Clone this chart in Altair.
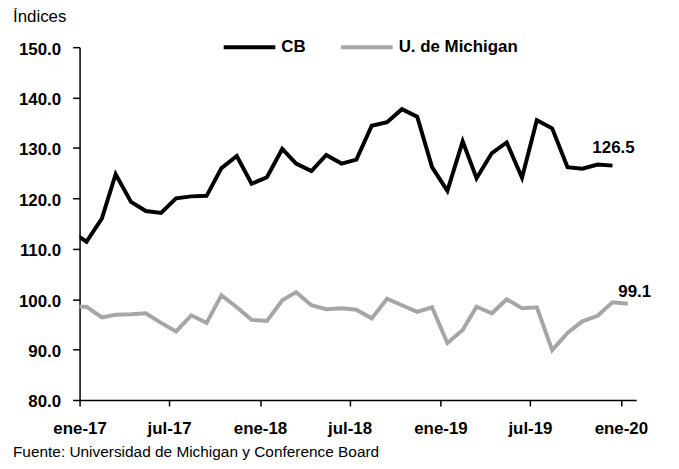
import altair as alt
import pandas as pd

F = "Liberation Sans, Arial, sans-serif"

# monthly observations (dated mid-month), Dec-2016 .. Jan-2020
months = [f"{y}-{m:02d}-15" for y, m in
          [(2016, 12)] + [(yy, mm) for yy in (2017, 2018, 2019) for mm in range(1, 13)] + [(2020, 1)]]

cb = [113.5,
      111.4, 116.0, 124.8, 119.3, 117.5, 117.1, 120.0, 120.4, 120.5, 126.0, 128.4, 122.9,
      124.2, 129.8, 126.9, 125.4, 128.6, 126.9, 127.7, 134.4, 135.1, 137.7, 136.2, 126.2,
      121.5, 131.3, 124.0, 129.0, 131.1, 124.1, 135.5, 133.9, 126.2, 125.9, 126.7, 126.5]

mich = [98.5,
        98.5, 96.4, 96.9, 97.0, 97.2, 95.3, 93.6, 96.8, 95.3, 100.8, 98.4, 95.9,
        95.7, 99.8, 101.4, 98.8, 98.0, 98.2, 97.9, 96.2, 100.1, 98.8, 97.5, 98.4,
        91.3, 93.9, 98.5, 97.2, 100.0, 98.2, 98.4, 89.9, 93.3, 95.6, 96.7, 99.4,
        99.1]

series_names = ["CB", "U. de Michigan"]
series_colors = ["#000000", "#a6a6a6"]
tick_dates = [(2017, 1), (2017, 7), (2018, 1), (2018, 7), (2019, 1), (2019, 7), (2020, 1)]

rows = []
for name, vals in zip(series_names, [cb, mich]):
    for d, v in zip(months, vals):
        rows.append({"fecha": d, "serie": name, "valor": v})
df = pd.DataFrame(rows)

last_cb = pd.DataFrame([{"fecha": months[len(cb) - 1], "valor": cb[-1], "txt": f"{cb[-1]:.1f}"}])
last_mi = pd.DataFrame([{"fecha": months[len(mich) - 1], "valor": mich[-1], "txt": f"{mich[-1]:.1f}"}])

x_scale = alt.Scale(type="utc",
                    domain=[alt.DateTime(year=2017, month=1, date=1, utc=True),
                            alt.DateTime(year=2020, month=2, date=1, utc=True)])
y_scale = alt.Scale(domain=[80, 150], nice=False, zero=False)

x_axis = alt.Axis(
    title=None,
    values=[alt.DateTime(year=y, month=m, date=1, utc=True) for y, m in tick_dates],
    labelExpr="(utcFormat(datum.value, '%m') == '01' ? 'ene' : 'jul') + '-' + utcFormat(datum.value, '%y')",
    tickSize=6, labelPadding=15, labelFlush=False, labelOverlap=False,
)
y_axis = alt.Axis(title=None, values=[80, 90, 100, 110, 120, 130, 140, 150], format=".1f",
                  tickSize=7, labelPadding=12, labelOffset=2)

lines = alt.Chart(df).mark_line(strokeWidth=4, clip=True).encode(
    x=alt.X("fecha:T", scale=x_scale, axis=x_axis),
    y=alt.Y("valor:Q", scale=y_scale, axis=y_axis),
    color=alt.Color("serie:N",
                    scale=alt.Scale(domain=series_names, range=series_colors),
                    legend=alt.Legend(orient="none", legendX=143, legendY=-28,
                                      direction="horizontal", title=None,
                                      symbolType="stroke", symbolSize=2704,
                                      symbolStrokeWidth=4, labelFont=F,
                                      labelFontSize=17, labelFontWeight="bold",
                                      labelColor="black",
                                      labelOffset=4, columnPadding=27, padding=0)),
)

lab_cb = alt.Chart(last_cb).mark_text(font=F, fontSize=17, fontWeight="bold", dx=1, dy=-18,
                                      baseline="middle", color="black").encode(
    x="fecha:T", y="valor:Q", text="txt:N")
lab_mi = alt.Chart(last_mi).mark_text(font=F, fontSize=17, fontWeight="bold", dx=7, dy=-12,
                                      baseline="middle", color="black").encode(
    x="fecha:T", y="valor:Q", text="txt:N")

unit = alt.Chart(pd.DataFrame({"t": ["Índices"]})).mark_text(
    font=F, fontSize=17, align="left", baseline="alphabetic", color="black").encode(
    x=alt.value(-67), y=alt.value(-25), text="t:N")
src = alt.Chart(pd.DataFrame({"t": ["Fuente: Universidad de Michigan y Conference Board"]})).mark_text(
    font=F, fontSize=15.5, align="left", baseline="alphabetic", color="black").encode(
    x=alt.value(-67), y=alt.value(412), text="t:N")

chart = alt.layer(lines, lab_cb, lab_mi, unit, src).properties(
    width=560, height=355,
    autosize=alt.AutoSizeParams(type="none"),
    padding={"left": 72, "top": 38, "right": 35, "bottom": 66},
).configure_axis(
    grid=False, domainColor="black", tickColor="black", labelColor="black",
    domainWidth=1.5, tickWidth=1.5, labelFont=F, labelFontSize=17, labelFontWeight="bold",
).configure_view(stroke=None)

chart.save("out.html", embed_options={"renderer": "svg", "actions": False})
